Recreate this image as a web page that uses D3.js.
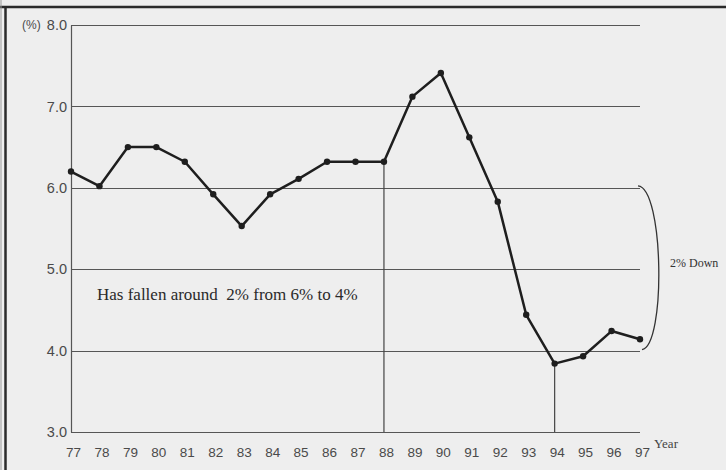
<!DOCTYPE html>
<html><head><meta charset="utf-8">
<script src="https://cdn.jsdelivr.net/npm/d3@7"></script>
<style>
html,body{margin:0;padding:0;background:#eeeeee;}
svg{display:block;}
</style></head>
<body>
<script>
const years = ["77","78","79","80","81","82","83","84","85","86","87","88","89","90","91","92","93","94","95","96","97"];
const rates = [6.2,6.02,6.5,6.5,6.32,5.92,5.53,5.92,6.11,6.32,6.32,6.32,7.12,7.41,6.62,5.83,4.44,3.84,3.93,4.24,4.14];
const yTicks = [3,4,5,6,7,8];
const dropLines = ["88","94"];
const bracketRange = [6,4];
const noteText = "Has fallen around  2% from 6% to 4%";
const bracketText = "2% Down";

const W = 726, H = 470;
const svg = d3.select("body").append("svg").attr("width", W).attr("height", H);
svg.append("rect").attr("width", W).attr("height", H).attr("fill", "#eeeeee");

// frame
svg.append("line").attr("x1",0).attr("x2",W).attr("y1",7).attr("y2",7).attr("stroke","#2a2a2a").attr("stroke-width",2.5);
svg.append("line").attr("x1",5.5).attr("x2",5.5).attr("y1",6).attr("y2",H).attr("stroke","#2a2a2a").attr("stroke-width",2.5);
svg.append("line").attr("x1",1).attr("x2",1).attr("y1",0).attr("y2",H).attr("stroke","#9a9a9a").attr("stroke-width",1);

const x = d3.scalePoint().domain(years).range([71, 640]);
const y = d3.scaleLinear().domain([3, 8]).range([432, 25]);

// gridlines
svg.append("g").selectAll("line").data(yTicks).join("line")
  .attr("x1", 71).attr("x2", 640)
  .attr("y1", d => Math.round(y(d)) + 0.5).attr("y2", d => Math.round(y(d)) + 0.5)
  .attr("stroke", "#555").attr("stroke-width", 1.2);

// y axis
const yAxis = d3.axisLeft(y).tickValues(yTicks).tickFormat(d3.format(".1f")).tickSize(0).tickPadding(4);
const gy = svg.append("g").attr("transform", "translate(71,0)").call(yAxis);
gy.select(".domain").attr("stroke", "#555").attr("stroke-width", 1.2);
gy.selectAll("text").attr("font-family", "Liberation Sans, Arial, sans-serif").attr("font-size", 14.5).attr("fill", "#4a4a4a");
svg.append("text").attr("x", 22).attr("y", y(8)).attr("dy", "0.35em")
  .attr("font-family", "Liberation Sans, Arial, sans-serif").attr("font-size", 12).attr("fill", "#4a4a4a").text("(%)");

// x axis
const xAxis = d3.axisBottom(x).tickSize(0).tickPadding(15);
const gx = svg.append("g").attr("transform", "translate(2,432)").call(xAxis);
gx.select(".domain").remove();
gx.selectAll("text").attr("font-family", "Liberation Sans, Arial, sans-serif").attr("font-size", 13.5).attr("fill", "#4a4a4a");
svg.append("text").attr("x", 654).attr("y", 448)
  .attr("font-family", "Liberation Serif, Times New Roman, serif").attr("font-size", 13).attr("fill", "#444").text("Year");

// drop lines
const valByYear = new Map(years.map((yr, i) => [yr, rates[i]]));
svg.append("g").selectAll("line").data(dropLines).join("line")
  .attr("x1", d => x(d)).attr("x2", d => x(d))
  .attr("y1", y(3)).attr("y2", d => y(valByYear.get(d)))
  .attr("stroke", "#444").attr("stroke-width", 1.2);

// series line
const data = years.map((yr, i) => ({yr, v: rates[i]}));
svg.append("path").datum(data)
  .attr("d", d3.line().x(d => x(d.yr)).y(d => y(d.v)))
  .attr("fill", "none").attr("stroke", "#1e1e1e").attr("stroke-width", 2.5).attr("stroke-linejoin", "round");
svg.append("g").selectAll("circle").data(data).join("circle")
  .attr("cx", d => x(d.yr)).attr("cy", d => y(d.v)).attr("r", 3.2).attr("fill", "#1e1e1e");

// bracket
const bx = 640, by0 = y(bracketRange[0]) - 2, by1 = y(bracketRange[1]) - 1;
const bp = d3.path();
bp.moveTo(bx - 2, by0);
bp.bezierCurveTo(bx + 24, by0 + 2, bx + 26, by1 - 4, bx + 2, by1);
svg.append("path").attr("d", bp.toString()).attr("fill", "none").attr("stroke", "#333").attr("stroke-width", 1.3);
svg.append("text").attr("x", 670).attr("y", 267)
  .attr("font-family", "Liberation Serif, Times New Roman, serif").attr("font-size", 12).attr("fill", "#333").text(bracketText);

// note
svg.append("text").attr("x", 97).attr("y", 300).attr("xml:space", "preserve").style("white-space", "pre")
  .attr("font-family", "Liberation Serif, Times New Roman, serif").attr("font-size", 17).attr("fill", "#2a2a2a").text(noteText);
</script>
</body></html>
